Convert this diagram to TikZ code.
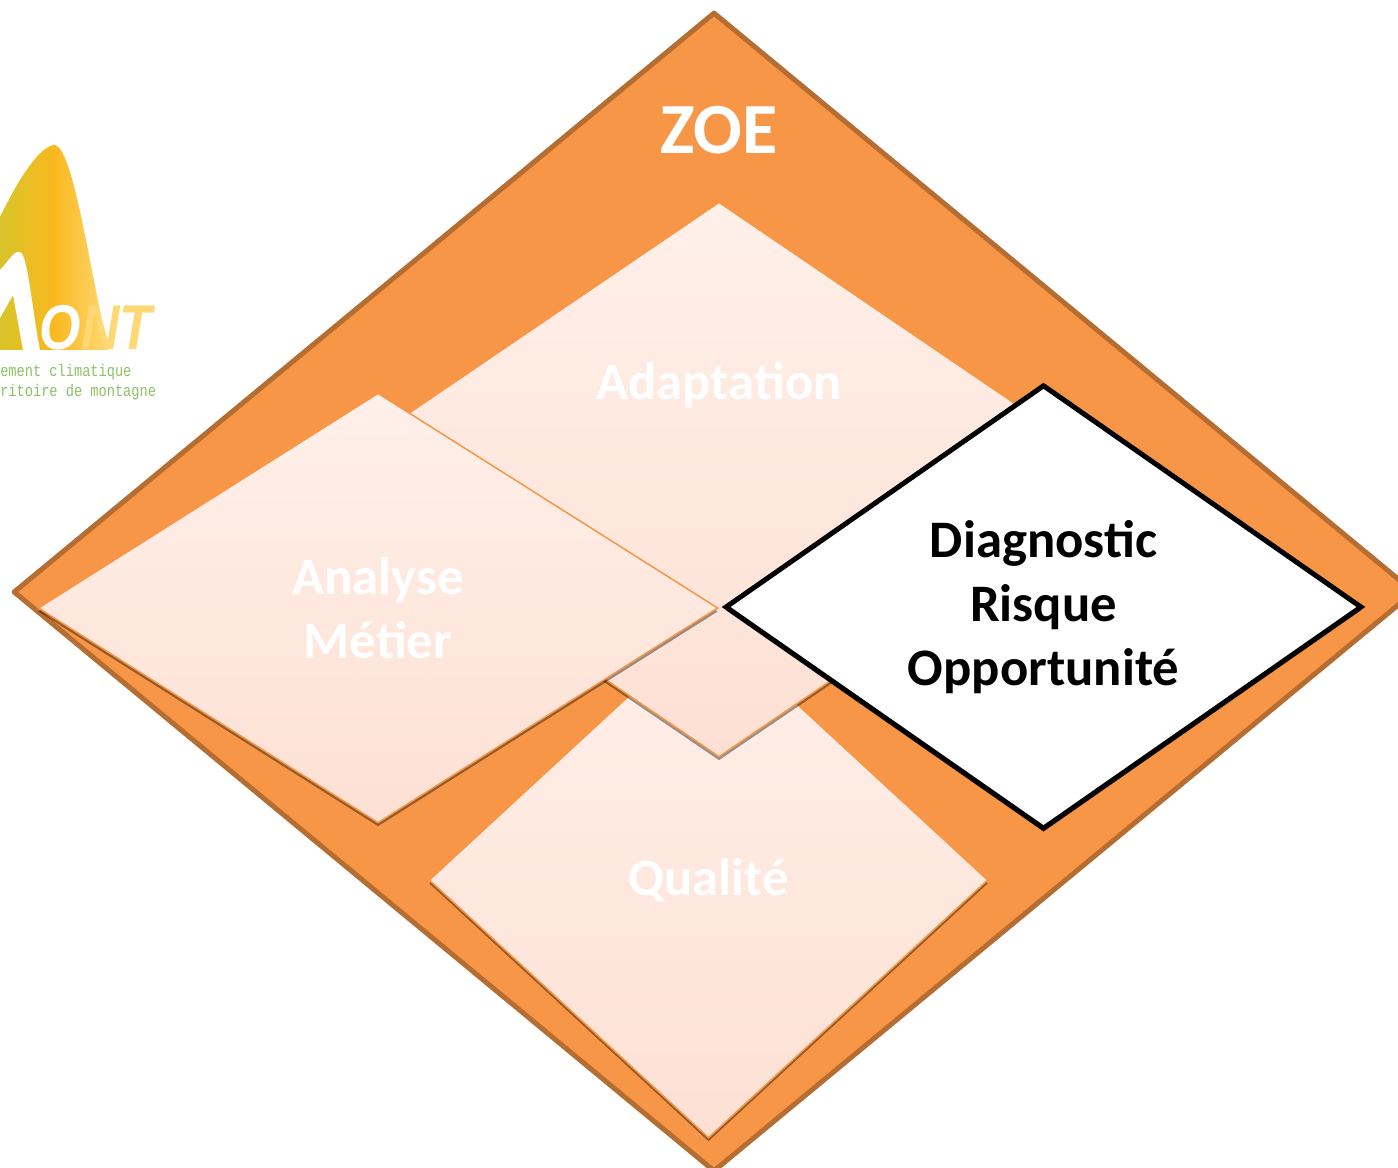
\documentclass[tikz,border=0pt]{standalone}
\usepackage{fontspec}
\setmainfont{Carlito}
\newfontfamily\logofont{Liberation Mono}
\newfontfamily\logoletters{Liberation Sans}
\usetikzlibrary{shapes,shadows}

\definecolor{zoeorange}{HTML}{F79646}
\definecolor{zoeborder}{HTML}{B66D31}
\definecolor{paletop}{HTML}{FFF0E9}
\definecolor{palebottom}{HTML}{FDE0D4}
\definecolor{logogreen}{HTML}{8CC063}
\definecolor{logoleft}{HTML}{D8C52A}
\definecolor{logomid}{HTML}{F9B81E}
\definecolor{logoright}{HTML}{FFD873}

\begin{document}
\begin{tikzpicture}[x=0.02cm,y=-0.02cm]

    \tikzstyle{zone}=[diamond,draw=zoeborder,line width=1mm,line join=round,fill=zoeorange,inner sep=0pt,minimum width=280.4mm,minimum height=232mm]
    \tikzstyle{pale}=[diamond,draw=zoeorange,line width=0.3mm,top color=paletop,bottom color=palebottom,inner sep=0pt,align=center,text=white,font=\fontsize{30}{36.4}\selectfont\bfseries,drop shadow={shadow xshift=0mm,shadow yshift=-0.7mm,fill=black,opacity=.4}]
    \tikzstyle{focus}=[diamond,draw=black,line width=1mm,fill=white,inner sep=0pt,align=center,text=black,font=\fontsize{30}{36.4}\selectfont\bfseries,minimum width=127.4mm,minimum height=86mm,drop shadow={shadow xshift=0mm,shadow yshift=-0.7mm,fill=black,opacity=.4}]
    \tikzstyle{logotext}=[inner sep=0pt,anchor=west,text=logogreen,font=\fontsize{9.6}{11}\logofont,xscale=.81,transform shape]

    \clip (0,0) rectangle (1398,1168);

    % logo
    \shade[left color=logoleft,right color=logoright,middle color=logomid]
        (0,217) .. controls (18,180) and (40,145) .. (55,145)
        .. controls (72,150) and (85,240) .. (108,350) -- (0,350) -- cycle;
    \fill[white] (0,270) .. controls (8,262) and (14,250) .. (20,252)
        .. controls (28,255) and (32,310) .. (40,350) -- (23,350)
        -- (13,295) -- (0,318) -- cycle;
    \node (ontletters) at (96,328) [inner sep=0pt,xscale=.84,transform shape,font=\fontsize{36}{36}\logoletters\bfseries\itshape]
        {\textcolor{white}{O}\textcolor{logoright}{NT}};
    \node [logotext] (logoline1) at (0,372) {ement climatique};
    \node [logotext] (logoline2) at (0,392) {ritoire de montagne};

    % diamonds
    \node [zone] (zoe) at (714,592) {};
    \node [pale,minimum width=111.8mm,minimum height=103.2mm] (qualite) at (708.5,880) {Qualité};
    \node [pale,minimum width=163.2mm,minimum height=111mm] (adaptation) at (719,479.5) {};
    \node [pale,minimum width=136mm,minimum height=86mm] (analyse) at (378,608) {Analyse\\Métier};
    \node [focus] (diagnostic) at (1043.5,607) {Diagnostic\\Risque\\Opportunité};

    \node [text=white,font=\fontsize{30}{36.4}\selectfont\bfseries] (adaptationlabel) at (719,385) {Adaptation};
    \node [text=white,font=\fontsize{41}{50}\selectfont\bfseries] (zoelabel) at (719,130) {ZOE};

\end{tikzpicture}
\end{document}
